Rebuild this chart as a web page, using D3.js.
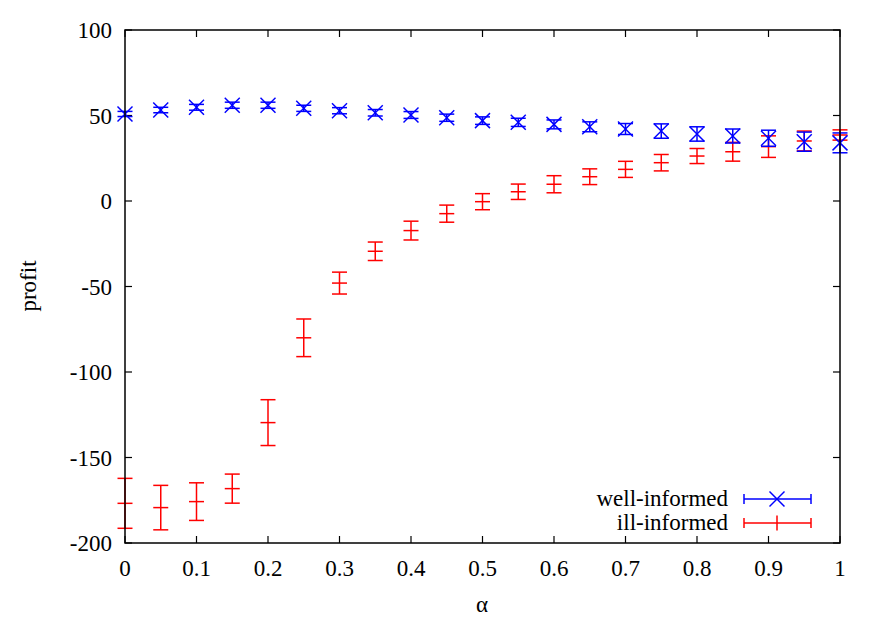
<!DOCTYPE html>
<html><head><meta charset="utf-8">
<script src="https://cdn.jsdelivr.net/npm/d3@7"></script>
<style>body{margin:0;background:#fff}svg{display:block}</style>
</head><body><svg id="c" width="882" height="617"></svg>
<script>
const alphas = [0,0.05,0.1,0.15,0.2,0.25,0.3,0.35,0.4,0.45,0.5,0.55,0.6,0.65,0.7,0.75,0.8,0.85,0.9,0.95,1.0];
const wellVals = [50.9,53.2,54.8,56,56,54.2,52.8,51.6,50.3,48.7,47,46,44.8,43.4,42.1,40.9,39.2,38,36.7,34.7,34];
const wellErr  = [1.5,1.6,1.7,1.8,1.8,1.8,1.8,1.9,2,2.1,2.2,2.4,2.6,2.9,3.2,4.2,4.2,4.1,4.7,5.6,5.8];
const illVals  = [-176.8,-179.3,-175.8,-168.2,-129.6,-80,-48,-29.4,-17.3,-7.4,-0.4,5.4,9.8,14.2,18.5,22.4,26.3,28.8,31.8,35.1,38.6];
const illErr   = [14.6,13,11,8.5,13.4,11,6.4,5.4,5.5,5,4.7,4.5,5,4.6,4.7,4.8,4.4,5.5,6.3,5.8,3];
const xTicks = [0,0.1,0.2,0.3,0.4,0.5,0.6,0.7,0.8,0.9,1];
const yTicks = [-200,-150,-100,-50,0,50,100];
const seriesNames = ["well-informed","ill-informed"];

const FONT = "'Liberation Serif', 'DejaVu Serif', 'Times New Roman', serif";
const FS = 23;
const svg = d3.select("#c");
const L=125,R=840,T=30,B=543;
const x = d3.scaleLinear().domain([0,1]).range([L,R]);
const y = d3.scaleLinear().domain([-200,100]).range([B,T]);
const tl = 7, cap = 7.5, ms = 7.5;

function txt(xx,yy,s,anchor){
  return svg.append("text").attr("x",xx).attr("y",yy).attr("text-anchor",anchor)
    .attr("font-family",FONT).attr("font-size",FS).attr("fill","#000").text(s);
}

// ticks (inward, mirrored)
const g = svg.append("g").attr("stroke","#000").attr("stroke-width",1.2);
xTicks.forEach(t=>{
  g.append("line").attr("x1",x(t)).attr("x2",x(t)).attr("y1",B).attr("y2",B-tl);
  g.append("line").attr("x1",x(t)).attr("x2",x(t)).attr("y1",T).attr("y2",T+tl);
});
yTicks.forEach(t=>{
  g.append("line").attr("x1",L).attr("x2",L+tl).attr("y1",y(t)).attr("y2",y(t));
  g.append("line").attr("x1",R).attr("x2",R-tl).attr("y1",y(t)).attr("y2",y(t));
});
xTicks.forEach(t=>{ txt(x(t),576,d3.format("")(t),"middle"); });
yTicks.forEach(t=>{ txt(112,y(t)+8,t,"end"); });
txt(482,612,"α","middle");
txt(0,0,"profit","middle").attr("transform","translate(36,286) rotate(-90)");

function errbar(gg, cx, v, e){
  const y1=y(v+e), y2=y(v-e);
  gg.append("line").attr("x1",cx).attr("x2",cx).attr("y1",y1).attr("y2",y2);
  gg.append("line").attr("x1",cx-cap).attr("x2",cx+cap).attr("y1",y1).attr("y2",y1);
  gg.append("line").attr("x1",cx-cap).attr("x2",cx+cap).attr("y1",y2).attr("y2",y2);
}
// ill-informed (red)
const gr = svg.append("g").attr("stroke","#ff0000").attr("stroke-width",1.5);
alphas.forEach((a,i)=>{
  const cx=x(a);
  errbar(gr,cx,illVals[i],illErr[i]);
  gr.append("line").attr("x1",cx-ms).attr("x2",cx+ms).attr("y1",y(illVals[i])).attr("y2",y(illVals[i]));
});
// well-informed (blue)
const gb = svg.append("g").attr("stroke","#0000ff").attr("stroke-width",1.5);
alphas.forEach((a,i)=>{
  const cx=x(a), cy=y(wellVals[i]);
  errbar(gb,cx,wellVals[i],wellErr[i]);
  gb.append("line").attr("x1",cx-ms).attr("x2",cx+ms).attr("y1",cy-ms).attr("y2",cy+ms);
  gb.append("line").attr("x1",cx-ms).attr("x2",cx+ms).attr("y1",cy+ms).attr("y2",cy-ms);
});
// frame
svg.append("rect").attr("x",L).attr("y",T).attr("width",R-L).attr("height",B-T).attr("fill","none").attr("stroke","#000").attr("stroke-width",1.5);

// legend
const legY=[499,523], colors=["#0000ff","#ff0000"];
seriesNames.forEach((n,i)=>{
  txt(728,legY[i]+7,n,"end");
  const lg = svg.append("g").attr("stroke",colors[i]).attr("stroke-width",1.5);
  lg.append("line").attr("x1",744).attr("x2",811).attr("y1",legY[i]).attr("y2",legY[i]);
  lg.append("line").attr("x1",744).attr("x2",744).attr("y1",legY[i]-5).attr("y2",legY[i]+5);
  lg.append("line").attr("x1",811).attr("x2",811).attr("y1",legY[i]-5).attr("y2",legY[i]+5);
  if(i===0){
    lg.append("line").attr("x1",777-ms).attr("x2",777+ms).attr("y1",legY[i]-ms).attr("y2",legY[i]+ms);
    lg.append("line").attr("x1",777-ms).attr("x2",777+ms).attr("y1",legY[i]+ms).attr("y2",legY[i]-ms);
  } else {
    lg.append("line").attr("x1",777).attr("x2",777).attr("y1",legY[i]-ms).attr("y2",legY[i]+ms);
  }
});
</script></body></html>
